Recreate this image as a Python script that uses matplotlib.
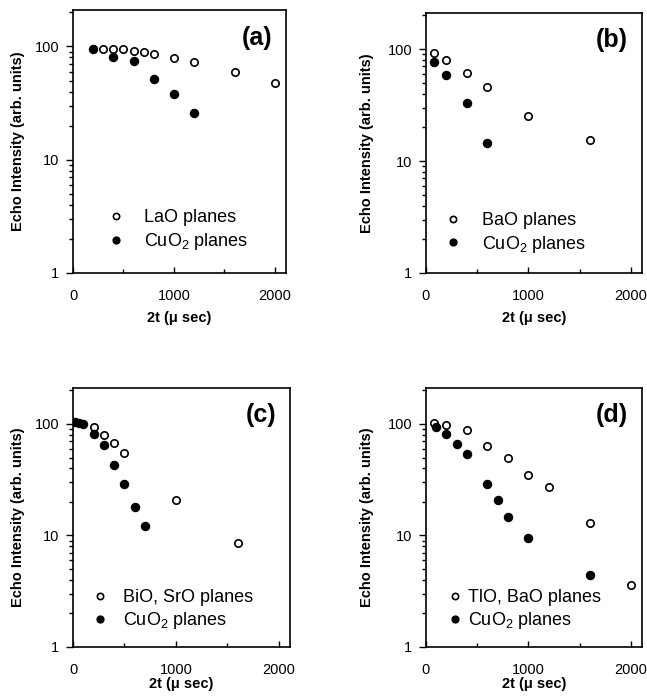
import numpy as np
import matplotlib
matplotlib.use('Agg')
import matplotlib.pyplot as plt
from matplotlib.ticker import FixedLocator, NullFormatter, LogLocator

plt.rcParams['font.family'] = ['Liberation Sans', 'DejaVu Sans']
plt.rcParams['mathtext.default'] = 'regular'

# (a) La2CuO4
a_open_x = [300, 400, 500, 600, 700, 800, 1000, 1200, 1600, 2000]
a_open_y = [95, 95, 95, 92, 90, 86, 79, 73, 60, 48]
a_fill_x = [200, 400, 600, 800, 1000, 1200]
a_fill_y = [95, 80, 75, 52, 38, 26]

# (b) YBCO
b_open_x = [80, 200, 400, 600, 1000, 1600]
b_open_y = [92, 80, 61, 46, 25, 15.3]
b_fill_x = [80, 200, 400, 600]
b_fill_y = [76, 59, 33, 14.5]

# (c) Bi
c_open_x = [200, 300, 400, 500, 1000, 1600]
c_open_y = [93, 79, 67, 55, 21, 8.6]
c_fill_x = [20, 60, 100, 200, 300, 400, 500, 600, 700]
c_fill_y = [104, 103, 100, 81, 65, 43, 29, 18, 12.2]

# (d) Tl
d_open_x = [80, 200, 400, 600, 800, 1000, 1200, 1600, 2000]
d_open_y = [101, 97, 89, 63, 50, 35, 27, 13, 3.6]
d_fill_x = [100, 200, 300, 400, 600, 700, 800, 1000, 1600]
d_fill_y = [93, 81, 66, 54, 29, 21, 14.6, 9.4, 4.4]

panel_tags = ['(a)', '(b)', '(c)', '(d)']
open_labels = ['LaO planes', 'BaO planes', 'BiO, SrO planes', 'TlO, BaO planes']
fill_label = 'CuO$_2$ planes'

W, H = 647, 698
fig = plt.figure(figsize=(W / 100, H / 100), dpi=100)

# axes boxes in pixels: left, top, right, bottom
boxes = [(73, 10, 286, 273), (426, 13, 642, 273),
         (73, 388, 290, 647), (426, 388, 642, 647)]
# legend anchor (axes fraction) and text gap
leg_pos = [(0.17, 0.08, 1.15), (0.09, 0.07, 1.25), (0.09, 0.06, 0.9), (0.10, 0.06, 0.35)]
xlab_pad = [6, 6, 0, 0]
ylab_pad = [7, 10, 7, 10]

series = [(a_open_x, a_open_y, a_fill_x, a_fill_y),
          (b_open_x, b_open_y, b_fill_x, b_fill_y),
          (c_open_x, c_open_y, c_fill_x, c_fill_y),
          (d_open_x, d_open_y, d_fill_x, d_fill_y)]

for i, (ox, oy, fx, fy) in enumerate(series):
    l, t, r, b = boxes[i]
    ax = fig.add_axes([l / W, 1 - b / H, (r - l) / W, (b - t) / H])
    ax.plot(ox, oy, 'o', mfc='white', mec='black', mew=1.2, ms=5.3,
            label=open_labels[i], zorder=3)
    ax.plot(fx, fy, 'o', color='black', ms=5.8, label=fill_label, zorder=3)

    ax.set_yscale('log')
    ax.set_xlim(0, 2110)
    ax.set_ylim(1, 210)
    ax.set_xticks([0, 1000, 2000])
    ax.xaxis.set_minor_locator(FixedLocator([500, 1500]))
    ax.set_yticks([1, 10, 100])
    ax.set_yticklabels(['1', '10', '100'])
    ax.yaxis.set_minor_locator(LogLocator(base=10, subs=np.arange(2, 10)))
    ax.yaxis.set_minor_formatter(NullFormatter())

    ax.tick_params(axis='x', which='major', direction='in', length=4, width=1, pad=11.5, labelsize=10.5)
    ax.tick_params(axis='x', which='minor', direction='in', length=3, width=1)
    ax.tick_params(axis='y', which='major', direction='out', length=5, width=1, pad=5, labelsize=10.5)
    ax.tick_params(axis='y', which='minor', direction='out', length=3, width=1)
    for sp in ax.spines.values():
        sp.set_linewidth(1.2)

    ax.set_ylabel('Echo Intensity (arb. units)', fontsize=10.5, fontweight='bold', labelpad=ylab_pad[i])
    ax.set_xlabel('2t (\u03bc sec)', fontsize=10.5, fontweight='bold', labelpad=xlab_pad[i])

    ax.text(0.935, 0.895, panel_tags[i], transform=ax.transAxes, ha='right', va='center',
            fontsize=18, fontweight='bold')

    lx, ly, gap = leg_pos[i]
    ax.legend(loc='lower left', bbox_to_anchor=(lx, ly), frameon=False,
              fontsize=13, handlelength=0.8, handletextpad=gap,
              labelspacing=0.25, borderpad=0, borderaxespad=0, markerscale=0.85)

fig.savefig('out.png', dpi=100)
